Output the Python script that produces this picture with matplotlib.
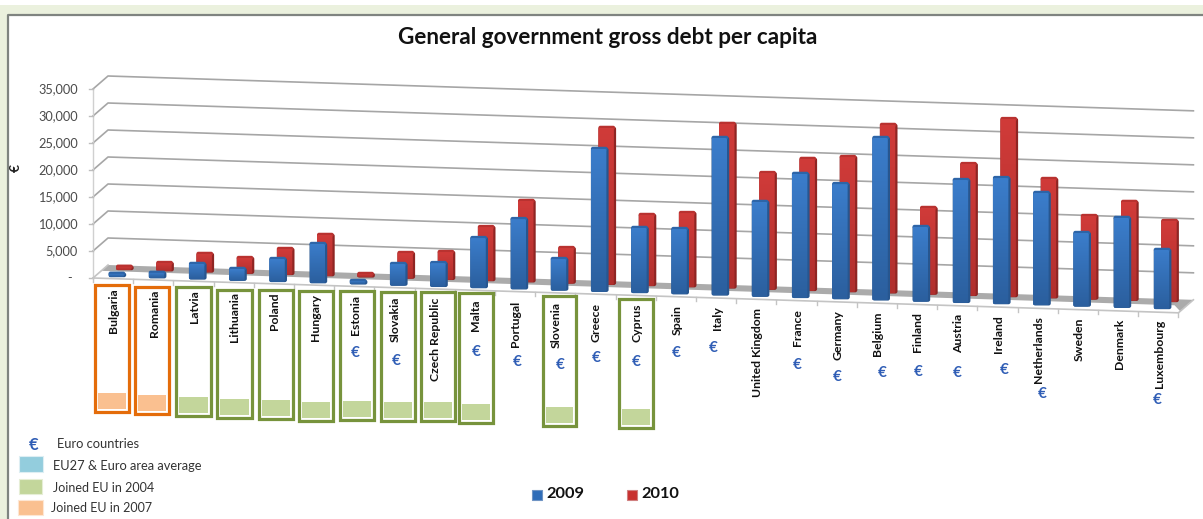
import numpy as np
import matplotlib
matplotlib.use('Agg')
import matplotlib.pyplot as plt
from matplotlib.patches import FancyBboxPatch, Rectangle, Polygon
from matplotlib.colors import LinearSegmentedColormap
from matplotlib.transforms import Affine2D

plt.rcParams['font.family'] = ['Lato', 'DejaVu Sans']

countries = ['Bulgaria', 'Romania', 'Latvia', 'Lithuania', 'Poland', 'Hungary', 'Estonia',
             'Slovakia', 'Czech Republic', 'Malta', 'Portugal', 'Slovenia', 'Greece', 'Cyprus',
             'Spain', 'Italy', 'United Kingdom', 'France', 'Germany', 'Belgium', 'Finland',
             'Austria', 'Ireland', 'Netherlands', 'Sweden', 'Denmark', 'Luxembourg']
debt_2009 = [600, 1000, 2870, 2170, 4240, 7250, 630, 4000, 4400, 9260, 13000, 5830, 26440, 12040,
             12070, 29160, 17540, 22960, 21300, 30070, 13810, 22740, 23330, 20800, 13610, 16630, 10930]
debt_2010 = [600, 1520, 3430, 2900, 4800, 7630, 630, 4740, 5150, 10000, 15060, 6570, 29040, 13150,
             13740, 30470, 21600, 24440, 25020, 31190, 16040, 24400, 32960, 22090, 15460, 18300, 15000]
y_ticks = [0, 5000, 10000, 15000, 20000, 25000, 30000, 35000]
y_tick_labels = ['-', '5,000', '10,000', '15,000', '20,000', '25,000', '30,000', '35,000']

joined_2007 = ['Bulgaria', 'Romania']
joined_2004 = ['Latvia', 'Lithuania', 'Poland', 'Hungary', 'Estonia', 'Slovakia',
               'Czech Republic', 'Malta', 'Slovenia', 'Cyprus']
euro_countries = ['Estonia', 'Slovakia', 'Malta', 'Portugal', 'Slovenia', 'Greece', 'Cyprus',
                  'Spain', 'Italy', 'France', 'Germany', 'Belgium', 'Finland', 'Austria',
                  'Ireland', 'Netherlands', 'Luxembourg']

# hand placed euro signs, (x, y) in figure pixels
euro_xy = {'Estonia': (355, 353), 'Slovakia': (396, 361), 'Malta': (476, 352), 'Portugal': (517, 362),
           'Slovenia': (560, 365), 'Greece': (596, 358), 'Cyprus': (636, 362), 'Spain': (676, 353),
           'Italy': (713, 348), 'France': (797, 365), 'Germany': (837, 377), 'Belgium': (882, 373),
           'Finland': (918, 372), 'Austria': (957, 373), 'Ireland': (1004, 370),
           'Netherlands': (1042, 394), 'Luxembourg': (1157, 400)}

# boxes round the new member states: left, top, right, bottom
box_xy = {'Bulgaria': (95, 285, 129, 412), 'Romania': (135, 287, 169, 414), 'Latvia': (176, 287, 211, 416),
          'Lithuania': (217, 290, 252, 418), 'Poland': (259, 290, 293, 419), 'Hungary': (299, 291, 333, 421),
          'Estonia': (340, 291, 374, 420), 'Slovakia': (381, 292, 415, 421),
          'Czech Republic': (421, 292, 455, 421), 'Malta': (459, 293, 493, 423),
          'Slovenia': (543, 296, 576, 426), 'Cyprus': (619, 299, 653, 428)}

fig = plt.figure(figsize=(12.03, 5.19), dpi=100, facecolor='white')
ax = fig.add_axes([0, 0, 1, 1])
ax.set_xlim(0, 1203)
ax.set_ylim(519, 0)
ax.axis('off')

# page background and the frame of the slide
ax.add_patch(Rectangle((0, 5), 1203, 9, fc='#EBF1DE', ec='none', zorder=0))
ax.add_patch(Rectangle((0, 5), 7, 514, fc='#EBF1DE', ec='none', zorder=0))
ax.plot([8, 8, 1203], [519, 14.5, 14.5], color='#7F8480', lw=1.6, zorder=1)

# front floor edge: category units to the right, euros upwards
x0, y0 = 93, 278
cat_w, cat_drop = 40.2, 1.29
px_per_eur = 27 / 5000
chart = Affine2D.from_values(cat_w, cat_drop, 0, -px_per_eur, x0, y0)
depth_x, depth_y = 15, -13
# foot of the front row of columns, a little flatter than the floor edge
columns = Affine2D.from_values(cat_w, 1.23, 0, -px_per_eur, 108.5, 277)


def project(cat, val, depth=0.0):
    px, py = chart.transform((cat, val))
    return px + depth * depth_x, py + depth * depth_y


n = len(countries)

# walls and gridlines
for t in y_ticks[1:]:
    a, b, c = project(0, t), project(0, t, 1), project(n, t, 1)
    ax.plot([a[0], b[0], c[0]], [a[1], b[1], c[1]], color='#A6A6A6', lw=1.2, zorder=2)
a, b = project(0, 0), project(0, 35000)
ax.plot([a[0], b[0]], [a[1], b[1]], color='#D0D0D0', lw=1, zorder=2)
for t, lab in zip(y_ticks, y_tick_labels):
    px, py = project(0, t)
    ax.plot([px - 4, px], [py, py], color='#BDBDBD', lw=1, zorder=2)
    ax.text(78 if t else 72, py, lab, ha='right', va='center', fontsize=9.2, color='#4A4A4A')
ax.text(16, 168, '€', rotation=90, ha='center', va='center', fontsize=10, fontweight='bold', color='#222222')

# floor: grey back half, white front lip
ax.add_patch(Polygon([project(0, 0, 1), project(n, 0, 1), project(n, 0, 0.12),
                      project(n - 0.3, 0, 0.55), project(0, 0, 0.55), project(0, 0, 0.1)],
                     fc='#ABABAB', ec='none', zorder=2))
f = [project(0, 0, 0), project(n, 0, 0), project(n, 0, 1)]
ax.plot([p[0] for p in f], [p[1] for p in f], color='#C4C4C4', lw=1.2, zorder=2)
a, b = project(0, 0), project(0, 0, 1)
ax.plot([a[0], b[0]], [a[1], b[1]], color='#C4C4C4', lw=1.2, zorder=2)
for k in range(n + 1):
    px, py = project(k, 0)
    ax.plot([px, px], [py, py + 4], color='#C4C4C4', lw=1, zorder=2)


def draw_bar(cat, val, shift, rim, side, top_col, bottom_col, z):
    left, base = columns.transform((cat, 0)) + np.array(shift)
    _, top = columns.transform((cat, val)) + np.array(shift)
    w = 15.5
    # dark body gives the rounded rim and right hand side of the column
    ax.add_patch(FancyBboxPatch((left, top - 1.2), w + 2.2, base - top + 1.4,
                                boxstyle='round,pad=0,rounding_size=2.2', fc=side, ec='none', zorder=z))
    ax.add_patch(FancyBboxPatch((left, top - 2.2), w + 1.2, min(4, base - top + 2.2),
                                boxstyle='round,pad=0,rounding_size=2', fc=rim, ec='none', zorder=z + 0.1))
    cmap = LinearSegmentedColormap.from_list('col', [top_col, bottom_col])
    im = ax.imshow(np.linspace(0, 1, 64).reshape(-1, 1), cmap=cmap, aspect='auto', zorder=z + 0.2,
                   extent=(left, left + w, base, top))
    clip = FancyBboxPatch((left, top), w, base - top, boxstyle='round,pad=0,rounding_size=1.5',
                          fc='none', ec='none', transform=ax.transData)
    ax.add_patch(clip)
    im.set_clip_path(clip)


for i in range(n):
    draw_bar(i, debt_2010[i], (7.5, -7), '#B93230', '#8F2523', '#D03B39', '#B02F2D', 3)
for i in range(n):
    draw_bar(i, debt_2009[i], (0, 0), '#2D65A8', '#27568F', '#3B7DCB', '#2B5F9E', 4)
ax.set_xlim(0, 1203)
ax.set_ylim(519, 0)

# new member boxes with their coloured foot
for name, (l, t, r, b) in box_xy.items():
    is_2007 = name in joined_2007
    edge = '#E46C0A' if is_2007 else '#77933C'
    fill = '#FAC090' if is_2007 else '#C3D69B'
    ax.add_patch(Rectangle((l + 3, b - 19), r - l - 6, 16, fc=fill, ec='none', zorder=5))
    ax.add_patch(Rectangle((l, t), r - l, b - t, fc='none', ec=edge, lw=2.3, zorder=6))

# category labels
for i, name in enumerate(countries):
    px = 114 + 40.2 * i
    py = 288 + 1.23 * i
    ax.text(px, py, name, rotation=90, ha='center', va='top', fontsize=8.8, fontweight='bold',
            color='#111111', zorder=7)

for name in euro_countries:
    ex, ey = euro_xy[name]
    ax.text(ex, ey, '€', ha='center', va='center', fontsize=11, fontweight='bold', color='#2F5DB5', zorder=7)

ax.text(608, 38, 'General government gross debt per capita', ha='center', va='center',
        fontsize=16.2, fontweight='bold', color='#111111')

# legend for the groups
ax.text(34, 445, '€', ha='center', va='center', fontsize=12, fontweight='bold', color='#2F5DB5')
ax.text(57, 444, 'Euro countries', va='center', fontsize=9.3, color='#333333')
ax.add_patch(Rectangle((19, 456), 24, 16, fc='#93CDDD', ec='#DDEEF3', lw=0.8))
ax.text(53, 466, 'EU27 & Euro area average', va='center', fontsize=9.3, color='#333333')
ax.add_patch(Rectangle((19, 479), 23, 15, fc='#C3D69B', ec='#E6EED6', lw=0.8))
ax.text(53, 488, 'Joined EU in 2004', va='center', fontsize=9, color='#333333')
ax.add_patch(Rectangle((18, 500), 25, 15, fc='#FAC090', ec='#FDE6D3', lw=0.8))
ax.text(51, 508, 'Joined EU in 2007', va='center', fontsize=9, color='#333333')

# legend for the series
ax.add_patch(Rectangle((531.5, 489.5), 10, 10, fc='#2F6DB8', ec='#6F94C4', lw=0.8))
ax.text(546, 494, '2009', va='center', fontsize=11.8, fontweight='bold', color='#111111')
ax.add_patch(Rectangle((626.5, 489.5), 10, 10, fc='#C8312F', ec='#D08080', lw=0.8))
ax.text(641, 494, '2010', va='center', fontsize=11.8, fontweight='bold', color='#111111')

fig.savefig('out.png', dpi=100)
